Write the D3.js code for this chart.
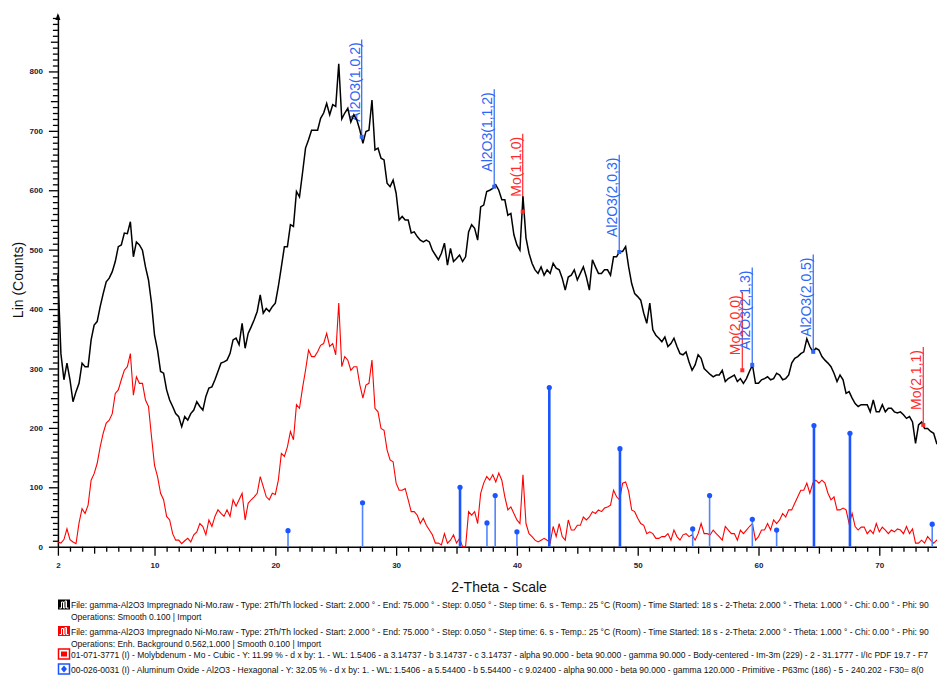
<!DOCTYPE html>
<html>
<head>
<meta charset="utf-8">
<script src="https://cdn.jsdelivr.net/npm/d3@7"></script>
<style>
  body { margin: 0; background: #fff; }
  text { font-family: "Liberation Sans", Arial, sans-serif; }
</style>
</head>
<body>
<script>
// 2-Theta grid of the two scans: 2.00 to 75.00 in 0.25 steps
var thetaStart = 2, thetaStep = 0.25;

// raw scan (smoothed), counts
var blackCounts = [
  457,325,281,309,281,244,261,275,309,303,
  303,348,373,379,404,426,446,452,463,480,
  505,508,528,527,547,488,513,508,499,471,
  449,410,356,331,295,292,264,247,236,224,
  219,202,219,213,224,230,244,236,230,253,
  267,269,281,295,309,311,314,325,348,351,
  340,376,334,359,370,382,396,424,393,401,
  396,404,410,
  438,471,505,505,542,539,598,589,629,671,
  685,701,701,701,721,730,746,727,744,741,
  813,720,730,738,715,727,718,701,679,699,
  701,752,668,671,654,651,612,606,617,595,
  550,556,550,550,528,530,522,516,513,516,
  513,499,491,483,494,511,474,502,480,485,
  491,480,488,530,542,536,516,572,575,598,
  600,603,609,600,584,584,558,561,525,508,
  499,590,520,494,477,466,460,471,457,466,
  460,477,469,466,452,432,454,457,466,449,
  460,471,454,432,483,471,460,460,466,466,
  457,488,488,497,497,505,471,443,426,421,
  415,393,376,410,365,356,351,345,353,337,
  342,351,337,325,323,328,311,297,306,323,
  317,300,295,290,
  286,289,289,297,278,283,286,289,278,283,
  275,283,295,306,275,275,281,283,286,281,
  283,292,289,281,283,289,309,317,320,325,
  328,350,337,328,334,331,320,314,309,303,
  292,278,289,281,258,261,250,241,236,239,
  239,239,227,247,227,227,239,227,233,233,
  227,225,227,222,216,219,210,174,205,210,
  199,199,194,191,174,168
];

// background-subtracted scan, counts
var redCounts = [
  8,6,12,30,12,8,5,40,64,56,
  70,112,123,140,168,191,208,213,224,258,
  264,281,297,303,325,255,286,275,275,247,
  236,185,137,118,90,79,51,45,22,11,
  11,5,10,14,8,20,25,39,34,20,
  45,34,51,62,56,51,62,51,79,68,
  79,90,45,73,79,84,90,118,101,84,
  79,90,88,
  112,157,152,168,194,180,239,233,267,297,
  331,320,320,328,339,342,359,337,342,323,
  410,303,320,314,297,303,303,272,250,272,
  275,314,233,227,199,196,163,146,143,107,
  95,95,98,79,59,59,53,39,48,36,
  28,20,6,6,3,22,6,11,20,6,
  14,0,0,59,53,59,39,90,107,118,
  112,121,109,124,112,84,62,67,56,45,
  39,121,39,22,17,11,8,11,14,11,
  6,34,17,39,17,11,45,28,28,36,
  36,50,45,50,59,56,62,59,65,67,
  70,95,84,79,107,109,93,62,59,48,
  39,36,22,25,22,14,14,17,17,22,
  11,28,17,11,20,22,17,20,11,22,
  39,22,22,20,
  28,22,17,11,34,28,22,22,11,28,
  22,28,34,39,11,17,28,28,39,28,
  45,39,45,56,50,62,62,73,84,95,
  95,107,90,107,112,107,112,107,90,79,
  84,62,62,65,62,39,56,34,28,33,
  33,22,28,22,39,25,33,28,22,28,
  25,30,28,22,34,22,30,6,6,11,
  6,17,11,6,11,8
];

// Al2O3 reference pattern sticks
var stickTheta  = [21.05, 27.22, 35.29, 37.52, 38.2, 40.0, 42.68, 48.53, 54.55, 55.95, 59.49, 61.5, 64.59, 67.57, 74.38];
var stickCounts = [27, 74, 100, 40, 86, 25, 268, 165, 30, 86, 46, 28, 204, 191, 38];

// peak labels
var annoLabels = ["Al2O3(1,0,2)", "Al2O3(1,1,2)", "Mo(1,1,0)", "Al2O3(2,0,3)", "Mo(2,0,0)", "Al2O3(2,1,3)", "Al2O3(2,0,5)", "Mo(2,1,1)"];
var annoTheta  = [27.15, 38.12, 40.48, 48.47, 58.66, 59.48, 64.53, 73.64];
var annoCounts = [690, 606, 564, 496, 297, 306, 328, 205];
var annoPhase  = ["Al2O3", "Al2O3", "Mo", "Al2O3", "Mo", "Al2O3", "Al2O3", "Mo"];

var xTickLabels = [2, 10, 20, 30, 40, 50, 60, 70];
var yTickLabels = [0, 100, 200, 300, 400, 500, 600, 700, 800];

var legendTexts = [
  "File: gamma-Al2O3 Impregnado Ni-Mo.raw - Type: 2Th/Th locked - Start: 2.000 ° - End: 75.000 ° - Step: 0.050 ° - Step time: 6. s - Temp.: 25 °C (Room) - Time Started: 18 s - 2-Theta: 2.000 ° - Theta: 1.000 ° - Chi: 0.00 ° - Phi: 90",
  "Operations: Smooth 0.100 | Import",
  "File: gamma-Al2O3 Impregnado Ni-Mo.raw - Type: 2Th/Th locked - Start: 2.000 ° - End: 75.000 ° - Step: 0.050 ° - Step time: 6. s - Temp.: 25 °C (Room) - Time Started: 18 s - 2-Theta: 2.000 ° - Theta: 1.000 ° - Chi: 0.00 ° - Phi: 90",
  "Operations: Enh. Background 0.562,1.000 | Smooth 0.100 | Import",
  "01-071-3771 (I) - Molybdenum - Mo - Cubic - Y: 11.99 % - d x by: 1. - WL: 1.5406 - a 3.14737 - b 3.14737 - c 3.14737 - alpha 90.000 - beta 90.000 - gamma 90.000 - Body-centered - Im-3m (229) - 2 - 31.1777 - I/Ic PDF 19.7 - F7",
  "00-026-0031 (I) - Aluminum Oxide - Al2O3 - Hexagonal - Y: 32.05 % - d x by: 1. - WL: 1.5406 - a 5.54400 - b 5.54400 - c 9.02400 - alpha 90.000 - beta 90.000 - gamma 120.000 - Primitive - P63mc (186) - 5 - 240.202 - F30= 8(0"
];

var phaseColor = { Al2O3: "#2f66f6", Mo: "#ff2b2b" };

var svg = d3.select("body").append("svg")
    .attr("width", 937)
    .attr("height", 675);

var x = d3.scaleLinear().domain([2, 75]).range([57.9, 939.7]);
var y = d3.scaleLinear().domain([0, 895]).range([546.7, 15]);

// axes
var xAxis = svg.append("g")
    .attr("transform", "translate(0,546.7)")
    .call(d3.axisBottom(x)
        .tickValues(d3.range(2, 76, 1))
        .tickSizeOuter(0)
        .tickFormat(function(d){ return xTickLabels.indexOf(d) >= 0 ? d : ""; }));
xAxis.select(".domain").attr("stroke", "#000").attr("stroke-width", 1.5);
xAxis.selectAll(".tick line")
    .attr("stroke", "#000").attr("stroke-width", 1.3)
    .attr("y2", function(d){ return (d % 10 === 0 || d === 2) ? 9 : (d % 5 === 0 ? 7 : 5); });
xAxis.selectAll(".tick text")
    .attr("y", 16)
    .attr("font-size", 8)
    .attr("font-weight", "bold")
    .attr("fill", "#1a1a3a");

var yAxis = svg.append("g")
    .attr("transform", "translate(57.9,0)")
    .call(d3.axisLeft(y)
        .tickValues(d3.range(0, 900, 10))
        .tickSizeOuter(0)
        .tickFormat(function(d){ return yTickLabels.indexOf(d) >= 0 ? d : ""; }));
yAxis.select(".domain").attr("stroke", "#000").attr("stroke-width", 1.5);
yAxis.selectAll(".tick line")
    .attr("stroke", "#000").attr("stroke-width", 1.3)
    .attr("x2", function(d){ return d % 100 === 0 ? -9 : (d % 50 === 0 ? -7 : -5); });
yAxis.selectAll(".tick text")
    .attr("x", -15)
    .attr("font-size", 8)
    .attr("font-weight", "bold")
    .attr("fill", "#1a1a3a");

// little arrow head at the top of the y axis
svg.append("path")
    .attr("d", "M55.4,20 L57.9,13 L60.4,20 Z")
    .attr("fill", "#000");

svg.append("text")
    .attr("transform", "translate(23,280) rotate(-90)")
    .attr("text-anchor", "middle")
    .attr("font-size", 14)
    .attr("fill", "#111")
    .text("Lin (Counts)");

svg.append("text")
    .attr("x", 499).attr("y", 592)
    .attr("text-anchor", "middle")
    .attr("font-size", 14)
    .attr("fill", "#111")
    .text("2-Theta - Scale");

// peak labels (text + stem), drawn under the curves
annoLabels.forEach(function(lab, i){
    var c = phaseColor[annoPhase[i]];
    var px = x(annoTheta[i]), py = y(annoCounts[i]);
    var t = svg.append("text")
        .attr("transform", "translate(" + (px - 2) + "," + (py - 15) + ") rotate(-90)")
        .attr("font-size", 14)
        .attr("fill", c)
        .text(lab);
    var len = t.node().getComputedTextLength();
    svg.append("line")
        .attr("x1", px).attr("x2", px)
        .attr("y1", py).attr("y2", py - len - 18)
        .attr("stroke", c).attr("stroke-width", 1.2);
});

var line = d3.line()
    .x(function(d, i){ return x(thetaStart + i * thetaStep); })
    .y(function(d){ return y(d); });

svg.append("path")
    .datum(redCounts)
    .attr("d", line)
    .attr("fill", "none")
    .attr("stroke", "#ff0000")
    .attr("stroke-width", 1.1);

svg.append("path")
    .datum(blackCounts)
    .attr("d", line)
    .attr("fill", "none")
    .attr("stroke", "#000")
    .attr("stroke-width", 1.5);

// Al2O3 sticks
stickTheta.forEach(function(t, i){
    var strong = stickCounts[i] > 95;
    svg.append("line")
        .attr("x1", x(t)).attr("x2", x(t))
        .attr("y1", y(0)).attr("y2", y(stickCounts[i]))
        .attr("stroke", strong ? "#1a55ff" : "#4f86ff")
        .attr("stroke-width", strong ? 2.6 : 1.6);
    svg.append("circle")
        .attr("cx", x(t)).attr("cy", y(stickCounts[i]))
        .attr("r", 2.6)
        .attr("fill", "#1a55ff");
});

// dots where the peak labels meet the curve
annoLabels.forEach(function(lab, i){
    svg.append("rect")
        .attr("x", x(annoTheta[i]) - 2).attr("y", y(annoCounts[i]) - 2)
        .attr("width", 4).attr("height", 4)
        .attr("fill", phaseColor[annoPhase[i]]);
});

// legend: font size chosen so the long lines just fill the width
var legendY = [608, 620, 634.5, 646.5, 657.5, 672.5];
var legend = svg.append("g");
var txts = legendTexts.map(function(s, i){
    return legend.append("text")
        .attr("x", 71).attr("y", legendY[i])
        .attr("font-size", 9)
        .attr("fill", "#111")
        .text(s);
});
var fs = 9 * 860 / txts[0].node().getComputedTextLength();
txts.forEach(function(t){ t.attr("font-size", fs); });

function patternIcon(yc, col){
    legend.append("rect").attr("x", 58).attr("y", yc - 5).attr("width", 12).attr("height", 10)
        .attr("fill", col);
    legend.append("path")
        .attr("d", "M59.5," + (yc + 3.5) + " l2,0 l0,-6 l2,0 l0,6 l1.5,0 l0,-7 l1.5,0 l0,7 l2,0")
        .attr("fill", "none").attr("stroke", "#fff").attr("stroke-width", 1);
}
patternIcon(604.5, "#000");
patternIcon(631, "#ff0000");

legend.append("rect").attr("x", 58.5).attr("y", 649).attr("width", 11).attr("height", 10)
    .attr("fill", "#fff").attr("stroke", "#ff0000").attr("stroke-width", 1.5);
legend.append("rect").attr("x", 61).attr("y", 651.5).attr("width", 6).attr("height", 5)
    .attr("fill", "#ff0000");

legend.append("rect").attr("x", 58.5).attr("y", 664).attr("width", 11).attr("height", 10)
    .attr("fill", "#fff").attr("stroke", "#1a55ff").attr("stroke-width", 1.5);
legend.append("path")
    .attr("d", "M64,665.5 L67,669 L64,672.5 L61,669 Z")
    .attr("fill", "#1a55ff");
</script>
</body>
</html>
